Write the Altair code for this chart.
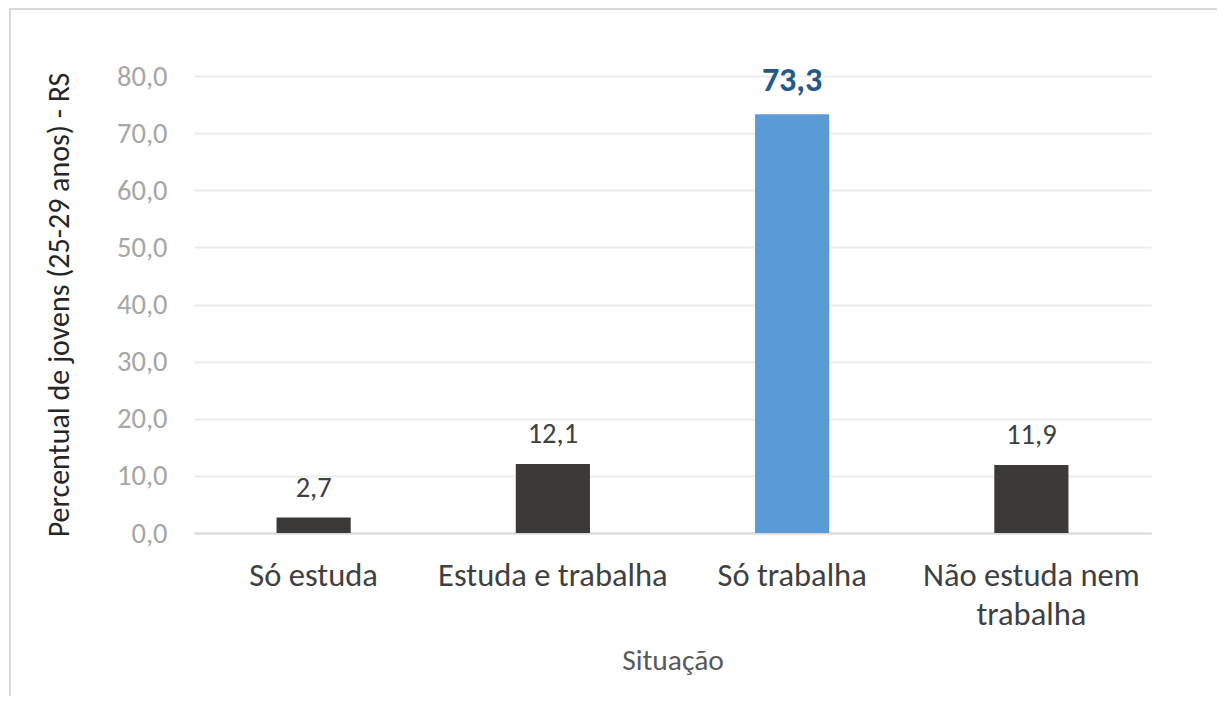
import altair as alt
import pandas as pd

categories = ["Só estuda", "Estuda e trabalha", "Só trabalha", "Não estuda nem trabalha"]
values = [2.7, 12.1, 73.3, 11.9]
highlight = [False, False, True, False]
y_ticks = [0, 10, 20, 30, 40, 50, 60, 70, 80]

df = pd.DataFrame({"situacao": categories, "valor": values, "destaque": highlight})
df["rotulo"] = [f"{v:.1f}".replace(".", ",") for v in values]

FONT = "Carlito, Calibri, Lato, sans-serif"

x_enc = alt.X(
    "situacao:N",
    sort=categories,
    title="Situação",
    scale=alt.Scale(paddingInner=0.69, paddingOuter=0.345),
    axis=alt.Axis(
        labelAngle=0,
        labelFontSize=32.5,
        labelFont=FONT,
        labelColor="#404040",
        labelPadding=26,
        labelLimit=400,
        labelLineHeight=39,
        labelExpr="datum.label == 'Não estuda nem trabalha' ? ['Não estuda nem', 'trabalha'] : datum.label",
        domainColor="#d9d9d9",
        domainWidth=2,
        ticks=False,
        titleFont=FONT,
        titleFontSize=29.5,
        titleFontWeight="normal",
        titleColor="#595959",
        titlePadding=16,
    ),
)

y_enc = alt.Y(
    "valor:Q",
    title="Percentual de jovens (25-29 anos) - RS",
    scale=alt.Scale(domain=[0, 80], nice=False),
    axis=alt.Axis(
        values=y_ticks,
        labelExpr="replace(format(datum.value, '.1f'), '.', ',')",
        labelFont=FONT,
        labelFontSize=28.5,
        labelColor="#a6a6a6",
        labelPadding=27,
        domain=False,
        ticks=False,
        gridColor="#ececec",
        gridWidth=2,
        titleFont=FONT,
        titleFontSize=30,
        titleFontWeight="normal",
        titleColor="#262626",
        titlePadding=42,
    ),
)

base = alt.Chart(df)

border = alt.Chart(pd.DataFrame({"a": [0]})).mark_rect(
    fill="transparent", stroke="#d9d9d9", strokeWidth=2
).encode(
    x=alt.value(-184), x2=alt.value(1200), y=alt.value(-67), y2=alt.value(800)
)

bars = base.mark_bar().encode(
    x=x_enc,
    y=y_enc,
    color=alt.condition("datum.destaque", alt.value("#5b9bd5"), alt.value("#3b3a38")),
)

labels = base.transform_filter("!datum.destaque").mark_text(
    baseline="alphabetic", dy=-21, fontSize=28.5, font=FONT, color="#404040"
).encode(x=alt.X("situacao:N", sort=categories), y="valor:Q", text="rotulo:N")

labels_hi = base.transform_filter("datum.destaque").mark_text(
    baseline="alphabetic", dy=-23, fontSize=34, font=FONT, fontWeight="bold", color="#245a8a"
).encode(x=alt.X("situacao:N", sort=categories), y="valor:Q", text="rotulo:N")

chart = alt.layer(border, bars, labels, labels_hi).properties(
    width=957,
    height=457,
    autosize=alt.AutoSizeParams(type="none"),
    padding={"left": 186, "top": 68, "right": 66, "bottom": 163},
).configure_view(stroke=None)

chart.save("out.html", embed_options={"renderer": "svg", "actions": False})
